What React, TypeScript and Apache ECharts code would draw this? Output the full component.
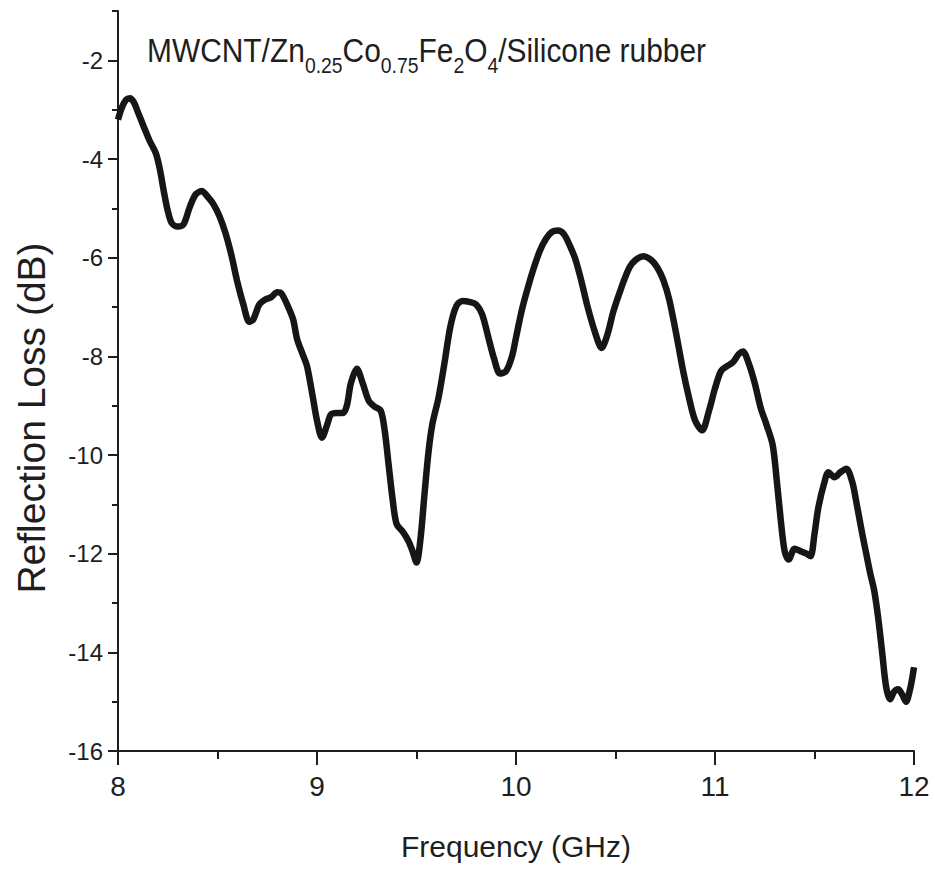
import React, { useEffect, useRef } from "react";
import * as echarts from "echarts";

const frequency: number[] = [
  8.0, 8.02, 8.04, 8.06, 8.08, 8.1, 8.13, 8.16, 8.19, 8.21, 8.23, 8.25, 8.27, 8.3, 8.33, 8.36, 8.39, 8.42,
  8.45, 8.48, 8.51, 8.54, 8.57, 8.6, 8.63, 8.66, 8.68, 8.71, 8.74, 8.77, 8.8, 8.82, 8.85, 8.88, 8.9, 8.93,
  8.95, 8.98, 9.0, 9.025, 9.05, 9.07, 9.1, 9.13, 9.15, 9.17, 9.2, 9.23, 9.26, 9.29, 9.32, 9.34, 9.36, 9.38,
  9.4, 9.43, 9.46, 9.48, 9.5, 9.52, 9.54, 9.56, 9.58, 9.61, 9.64, 9.67, 9.7, 9.73, 9.77, 9.8, 9.83, 9.86,
  9.89, 9.92, 9.95, 9.98, 10.0, 10.03, 10.06, 10.09, 10.12, 10.15, 10.18, 10.21, 10.24, 10.27, 10.3, 10.33,
  10.36, 10.4, 10.43, 10.46, 10.49, 10.53, 10.57, 10.6, 10.64, 10.68, 10.71, 10.74, 10.77, 10.81, 10.84,
  10.87, 10.9, 10.935, 10.97, 11.0, 11.03, 11.06, 11.09, 11.12, 11.14, 11.17, 11.2, 11.23, 11.26, 11.29,
  11.31, 11.33, 11.35, 11.37, 11.4, 11.43, 11.46, 11.48, 11.5, 11.52, 11.55, 11.57, 11.6, 11.63, 11.66,
  11.69, 11.71, 11.74, 11.76, 11.78, 11.8, 11.82, 11.84, 11.86, 11.88, 11.9, 11.92, 11.94, 11.96, 11.98,
  11.99, 12.0,
];

const reflectionLoss: number[] = [
  -3.2, -2.95, -2.8, -2.77, -2.85, -3.05, -3.35, -3.64, -3.88, -4.2, -4.65, -5.05, -5.3, -5.37, -5.32, -4.98,
  -4.72, -4.65, -4.76, -4.92, -5.16, -5.5, -5.95, -6.5, -6.95, -7.3, -7.25, -6.95, -6.85, -6.8, -6.7, -6.72,
  -6.95, -7.25, -7.65, -7.98, -8.2, -8.85, -9.3, -9.65, -9.4, -9.18, -9.15, -9.15, -9.0, -8.55, -8.25, -8.55,
  -8.9, -9.02, -9.1, -9.5, -10.2, -10.9, -11.4, -11.55, -11.75, -11.95, -12.18, -11.7, -10.8, -9.95, -9.37,
  -8.85, -8.15, -7.4, -6.98, -6.88, -6.9, -6.95, -7.15, -7.6, -8.05, -8.35, -8.3, -8.0, -7.62, -7.05, -6.6,
  -6.2, -5.86, -5.62, -5.48, -5.45, -5.52, -5.75, -6.05, -6.5, -7.0, -7.55, -7.83, -7.55, -7.08, -6.6, -6.2,
  -6.05, -5.97, -6.05, -6.2, -6.45, -6.85, -7.65, -8.3, -8.85, -9.3, -9.5, -9.1, -8.65, -8.3, -8.2, -8.12,
  -7.95, -7.9, -8.15, -8.55, -9.05, -9.4, -9.8, -10.5, -11.3, -11.95, -12.12, -11.9, -11.95, -12.0, -12.05,
  -11.6, -11.05, -10.55, -10.35, -10.45, -10.35, -10.28, -10.55, -10.95, -11.6, -12.0, -12.4, -12.75, -13.3,
  -14.0, -14.7, -14.95, -14.8, -14.75, -14.85, -15.0, -14.75, -14.55, -14.3,
];

const xTicks: number[] = [8, 9, 10, 11, 12];
const yMajorTicks: number[] = [-16, -14, -12, -10, -8, -6, -4, -2];
const yMinorTicks: number[] = [-15, -13, -11, -9, -7, -5, -3, -1];

const FONT = "'Liberation Sans', Arial, sans-serif";
const INK = "#1e1e1e";

export default function App() {
  const ref = useRef<HTMLDivElement>(null);

  useEffect(() => {
    if (!ref.current) return;
    const chart = echarts.init(ref.current, undefined, { renderer: "svg" });
    const data = frequency.map((f, i) => [f, reflectionLoss[i]]);

    chart.setOption({
      animation: false,
      backgroundColor: "#ffffff",
      grid: { left: 118, right: 21, top: 11, bottom: 118, containLabel: false },
      xAxis: {
        type: "value",
        min: xTicks[0],
        max: xTicks[xTicks.length - 1],
        interval: 1,
        name: "Frequency (GHz)",
        nameLocation: "middle",
        nameGap: 80,
        nameTextStyle: { fontSize: 30, color: INK, fontFamily: FONT },
        axisLine: { show: true, lineStyle: { color: INK, width: 2 } },
        axisTick: { show: true, length: 14, lineStyle: { color: INK, width: 2 } },
        minorTick: { show: true, splitNumber: 2, length: 8, lineStyle: { color: INK, width: 2 } },
        splitLine: { show: false },
        axisLabel: { fontSize: 28, margin: 21, color: INK, fontFamily: FONT },
      },
      yAxis: [
        {
          type: "value",
          min: -16,
          max: -1,
          interval: 2,
          position: "left",
          axisLine: { show: true, onZero: false, lineStyle: { color: INK, width: 2 } },
          axisTick: { show: true, length: 10, customValues: yMajorTicks, lineStyle: { color: INK, width: 2 } },
          axisLabel: {
            fontSize: 24,
            margin: 15,
            color: INK,
            fontFamily: FONT,
            customValues: yMajorTicks,
            formatter: (v: number) => (v === -1 ? "" : String(v)),
          },
          splitLine: { show: false },
        },
        {
          type: "value",
          min: -16,
          max: -1,
          position: "left",
          axisLine: { show: false },
          axisTick: { show: true, length: 6, customValues: yMinorTicks, lineStyle: { color: INK, width: 2 } },
          axisLabel: { show: false },
          splitLine: { show: false },
        },
      ],
      series: [
        {
          type: "line",
          yAxisIndex: 0,
          data,
          showSymbol: false,
          smooth: 0.3,
          lineStyle: { color: "#161616", width: 6.5 },
        },
      ],
      graphic: [
        {
          type: "text",
          x: 31,
          y: 418,
          rotation: Math.PI / 2,
          style: {
            text: "Reflection Loss (dB)",
            fontSize: 39,
            fontFamily: FONT,
            fill: INK,
            align: "center",
            verticalAlign: "middle",
          },
        },
        {
          type: "text",
          x: 147,
          y: 33,
          scaleX: 0.88,
          style: {
            text:
              "{m|MWCNT/Zn}{s|0.25}{m|Co}{s|0.75}{m|Fe}{s|2}{m|O}{s|4}{m|/Silicone rubber}",
            fontFamily: FONT,
            fill: INK,
            align: "left",
            verticalAlign: "top",
            rich: {
              m: { fontSize: 34, lineHeight: 34, verticalAlign: "top", fontFamily: FONT, fill: INK },
              s: {
                fontSize: 22,
                lineHeight: 22,
                padding: [21, 0, 0, 0],
                verticalAlign: "top",
                fontFamily: FONT,
                fill: INK,
              },
            },
          },
        },
      ],
    });

    return () => chart.dispose();
  }, []);

  return (
    <div
      ref={ref}
      style={{ position: "fixed", left: 0, top: 0, width: 935, height: 869, background: "#fff" }}
    />
  );
}
